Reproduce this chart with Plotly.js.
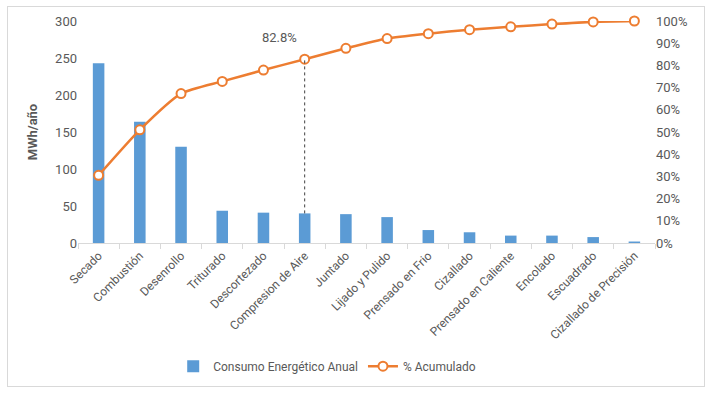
<!DOCTYPE html>
<html>
<head>
<meta charset="utf-8">
<script src="https://cdn.plot.ly/plotly-3.0.1.min.js"></script>
<style>
html,body{margin:0;padding:0;background:#fff;}
#wrap{position:relative;width:714px;height:394px;}
#chart{position:absolute;left:0;top:0;width:714px;height:394px;}
#frame{position:absolute;left:7px;top:6px;width:696px;height:379px;border:1px solid #d9d9d9;pointer-events:none;}
</style>
</head>
<body>
<div id="wrap"><div id="chart"></div><div id="frame"></div></div>
<script>
const categories = ["Secado","Combustión","Desenrollo","Triturado","Descortezado","Compresion de Aire","Juntado","Lijado y Pulido","Prensado en Frio","Cizallado","Prensado en Caliente","Encolado","Escuadrado","Cizallado de Precisión"];
const consumo = [243, 164, 130, 43.6, 41, 40, 39, 35, 17.5, 14.5, 10, 10, 8, 2];
const acumulado = [0.305, 0.510, 0.673, 0.728, 0.779, 0.828, 0.877, 0.921, 0.943, 0.961, 0.974, 0.986, 0.996, 1.0];
const leftTicks = [0, 50, 100, 150, 200, 250, 300];
const rightTicks = [0, 0.1, 0.2, 0.3, 0.4, 0.5, 0.6, 0.7, 0.8, 0.9, 1.0];
const markIndex = 5;

const FONT = "Roboto, 'Liberation Sans', sans-serif";
const GRAY = "#595959";

const traces = [
  {
    type: "bar", name: "Consumo Energético Anual",
    x: categories, y: consumo,
    marker: {color: "#5B9BD5"}, width: 0.28,
    hoverinfo: "skip"
  },
  {
    type: "scatter", mode: "lines+markers", name: "% Acumulado",
    x: categories, y: acumulado, yaxis: "y2", cliponaxis: false,
    line: {color: "#ED7D31", width: 2.5, shape: "spline", smoothing: 0.6},
    marker: {symbol: "circle", size: 9, color: "#ffffff", line: {color: "#ED7D31", width: 2}},
    hoverinfo: "skip"
  }
];

const layout = {
  width: 714, height: 394,
  margin: {l: 78, r: 59, t: 21, b: 151},
  paper_bgcolor: "rgba(0,0,0,0)", plot_bgcolor: "rgba(0,0,0,0)",
  font: {family: FONT, size: 12, color: GRAY},
  showlegend: true,
  legend: {orientation: "h", x: 0.165, xanchor: "left", y: -0.555, yanchor: "middle",
           font: {family: FONT, size: 12, color: GRAY}, traceorder: "normal"},
  xaxis: {
    type: "category", tickangle: -45, tickson: "boundaries",
    ticks: "outside", ticklen: 5, tickcolor: "#d9d9d9",
    showline: true, linecolor: "#d9d9d9", linewidth: 1,
    showgrid: false, zeroline: false,
    tickfont: {family: FONT, size: 12, color: GRAY},
    range: [-0.5, categories.length - 0.5]
  },
  yaxis: {
    range: [0, 300], tickvals: leftTicks, ticktext: leftTicks.map(String),
    showgrid: false, zeroline: false, showline: false, ticks: "",
    tickfont: {family: FONT, size: 13, color: GRAY},
    title: {text: "<b>MWh/año</b>", font: {family: FONT, size: 13, color: GRAY}, standoff: 14}
  },
  yaxis2: {
    overlaying: "y", side: "right", range: [0, 1],
    tickvals: rightTicks, tickformat: ".0%",
    showgrid: false, zeroline: false, showline: false, ticks: "",
    tickfont: {family: FONT, size: 13, color: GRAY}
  },
  shapes: [{
    type: "line", xref: "x", yref: "y2",
    x0: markIndex, x1: markIndex,
    y0: consumo[markIndex] / 300, y1: acumulado[markIndex],
    line: {color: "#404040", width: 1, dash: "dot"}
  }],
  annotations: [{
    xref: "x", yref: "y2", x: markIndex, y: acumulado[markIndex],
    text: (acumulado[markIndex] * 100).toFixed(1) + "%",
    showarrow: false, xshift: -25, yshift: 22,
    font: {family: FONT, size: 13, color: GRAY}
  }]
};

Plotly.newPlot("chart", traces, layout, {displayModeBar: false, staticPlot: true});
</script>
</body>
</html>
